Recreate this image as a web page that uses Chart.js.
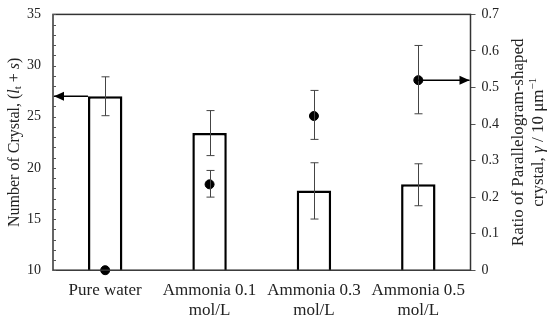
<!DOCTYPE html>
<html>
<head>
<meta charset="utf-8">
<script src="https://cdn.jsdelivr.net/npm/chart.js@4.4.1/dist/chart.umd.min.js"></script>
<style>
  html, body { margin: 0; padding: 0; background: #fff; }
  #wrap { width: 550px; height: 323px; }
</style>
</head>
<body>
<div id="wrap"><canvas id="chart"></canvas></div>
<script>
// data
const categories = [['Pure water'], ['Ammonia 0.1', 'mol/L'], ['Ammonia 0.3', 'mol/L'], ['Ammonia 0.5', 'mol/L']];
const crystalCount = [27.0, 23.4, 17.8, 18.4];
const crystalLow = [25.1, 21.2, 15.0, 16.3];
const crystalHigh = [28.9, 25.6, 20.5, 20.4];
const ratio = [0, 0.235, 0.422, 0.520];
const ratioLow = [null, 0.200, 0.358, 0.428];
const ratioHigh = [null, 0.273, 0.492, 0.615];
const leftTicks = [10, 15, 20, 25, 30, 35];
const rightTicks = [0, 0.1, 0.2, 0.3, 0.4, 0.5, 0.6, 0.7];

const serif = "'Liberation Serif', 'DejaVu Serif', serif";

// error bars, arrows, frame, minor ticks and axis titles
const extras = {
    id: 'extras',
    afterDatasetsDraw(chart) {
        const { ctx, chartArea: a, scales } = chart;
        const x = scales.x, y = scales.y, y1 = scales.y1;
        ctx.save();

        // frame
        ctx.strokeStyle = '#333';
        ctx.lineWidth = 1.5;
        ctx.strokeRect(a.left, a.top, a.right - a.left, a.bottom - a.top);

        // inner minor ticks on left axis
        ctx.lineWidth = 1;
        ctx.strokeStyle = '#555';
        for (let v = 10; v <= 35; v++) {
            const py = Math.round(y.getPixelForValue(v)) + 0.5;
            ctx.beginPath();
            ctx.moveTo(a.left, py);
            ctx.lineTo(a.left + 3, py);
            ctx.stroke();
        }

        // error bars
        const drawErr = (px, lo, hi) => {
            ctx.beginPath();
            ctx.moveTo(px, lo); ctx.lineTo(px, hi);
            ctx.moveTo(px - 4, lo); ctx.lineTo(px + 4, lo);
            ctx.moveTo(px - 4, hi); ctx.lineTo(px + 4, hi);
            ctx.stroke();
        };
        ctx.strokeStyle = '#444';
        ctx.lineWidth = 1;
        categories.forEach((c, i) => {
            const px = Math.round(x.getPixelForValue(i)) + 0.5;
            drawErr(px, y.getPixelForValue(crystalLow[i]), y.getPixelForValue(crystalHigh[i]));
            if (ratioLow[i] !== null) {
                drawErr(px, y1.getPixelForValue(ratioLow[i]), y1.getPixelForValue(ratioHigh[i]));
            }
        });

        // arrows
        const arrow = (x0, x1, py) => {
            ctx.strokeStyle = '#000';
            ctx.fillStyle = '#000';
            ctx.lineWidth = 1.5;
            ctx.beginPath();
            ctx.moveTo(x0, py); ctx.lineTo(x1, py);
            ctx.stroke();
            const dir = x1 > x0 ? 1 : -1;
            ctx.beginPath();
            ctx.moveTo(x1, py);
            ctx.lineTo(x1 - dir * 10, py - 4.5);
            ctx.lineTo(x1 - dir * 10, py + 4.5);
            ctx.closePath();
            ctx.fill();
        };
        const bar0 = chart.getDatasetMeta(0).data[0];
        arrow(bar0.x - bar0.width / 2, a.left + 1, y.getPixelForValue(crystalCount[0]));
        const last = ratio.length - 1;
        arrow(x.getPixelForValue(last), a.right - 1, y1.getPixelForValue(ratio[last]));

        // left axis title
        ctx.fillStyle = '#222';
        ctx.save();
        ctx.translate(15, (a.top + a.bottom) / 2);
        ctx.rotate(-Math.PI / 2);
        ctx.textBaseline = 'middle';
        const parts = [
            ['Number of Crystal, (', '16px ' + serif, 0],
            ['l', 'italic 16px ' + serif, 0],
            ['t', '11px ' + serif, 3],
            [' + ', '16px ' + serif, 0],
            ['s', 'italic 16px ' + serif, 0],
            [')', '16px ' + serif, 0]
        ];
        let total = 0;
        parts.forEach(p => { ctx.font = p[1]; total += ctx.measureText(p[0]).width; });
        let cx = -total / 2;
        parts.forEach(p => {
            ctx.font = p[1];
            ctx.fillText(p[0], cx, p[2]);
            cx += ctx.measureText(p[0]).width;
        });
        ctx.restore();

        // right axis title
        ctx.save();
        ctx.translate(529, (a.top + a.bottom) / 2);
        ctx.rotate(-Math.PI / 2);
        ctx.textAlign = 'center';
        ctx.textBaseline = 'middle';
        ctx.font = '17px ' + serif;
        ctx.fillText('Ratio of Parallelogram-shaped', 0, -10);
        const l2 = [['crystal, ', '17px ' + serif], ['γ', 'italic 17px ' + serif], [' / 10 μm', '17px ' + serif], ['−1', '11px ' + serif]];
        let w2 = 0;
        l2.forEach(p => { ctx.font = p[1]; w2 += ctx.measureText(p[0]).width; });
        ctx.textAlign = 'left';
        let cx2 = -w2 / 2;
        l2.forEach((p, k) => {
            ctx.font = p[1];
            ctx.fillText(p[0], cx2, k === 3 ? 4 : 10);
            cx2 += ctx.measureText(p[0]).width;
        });
        ctx.restore();

        ctx.restore();
    }
};

new Chart(document.getElementById('chart'), {
    data: {
        labels: categories,
        datasets: [
            {
                type: 'bar',
                data: crystalCount,
                yAxisID: 'y',
                backgroundColor: '#fff',
                borderColor: '#000',
                borderWidth: 2.5,
                barPercentage: 0.33,
                categoryPercentage: 1,
                order: 2
            },
            {
                type: 'line',
                data: ratio,
                yAxisID: 'y1',
                showLine: false,
                pointRadius: 4.5,
                pointBackgroundColor: '#000',
                pointBorderColor: '#000',
                clip: false,
                order: 1
            }
        ]
    },
    options: {
        responsive: true,
        maintainAspectRatio: false,
        animation: false,
        layout: { padding: { left: 23, right: 45, top: 0, bottom: -8 } },
        plugins: { legend: { display: false }, tooltip: { enabled: false } },
        scales: {
            x: {
                grid: { display: false, drawTicks: false },
                border: { display: false },
                ticks: { color: '#222', font: { family: serif, size: 17, lineHeight: 1.2 }, padding: 10, maxRotation: 0 }
            },
            y: {
                position: 'left',
                min: 10,
                max: 35,
                afterBuildTicks: s => { s.ticks = leftTicks.map(v => ({ value: v })); },
                grid: { drawOnChartArea: false, drawTicks: true, tickLength: 8, color: 'rgba(0,0,0,0)' },
                border: { display: false },
                ticks: { color: '#222', font: { family: serif, size: 14 }, padding: 4 }
            },
            y1: {
                position: 'right',
                min: 0,
                max: 0.7,
                afterBuildTicks: s => { s.ticks = rightTicks.map(v => ({ value: v })); },
                grid: { drawOnChartArea: false, tickLength: 5, color: '#555' },
                border: { display: false },
                ticks: { color: '#222', font: { family: serif, size: 14 }, padding: 6, callback: v => String(Math.round(v * 10) / 10) }
            }
        }
    },
    plugins: [extras]
});
</script>
</body>
</html>
